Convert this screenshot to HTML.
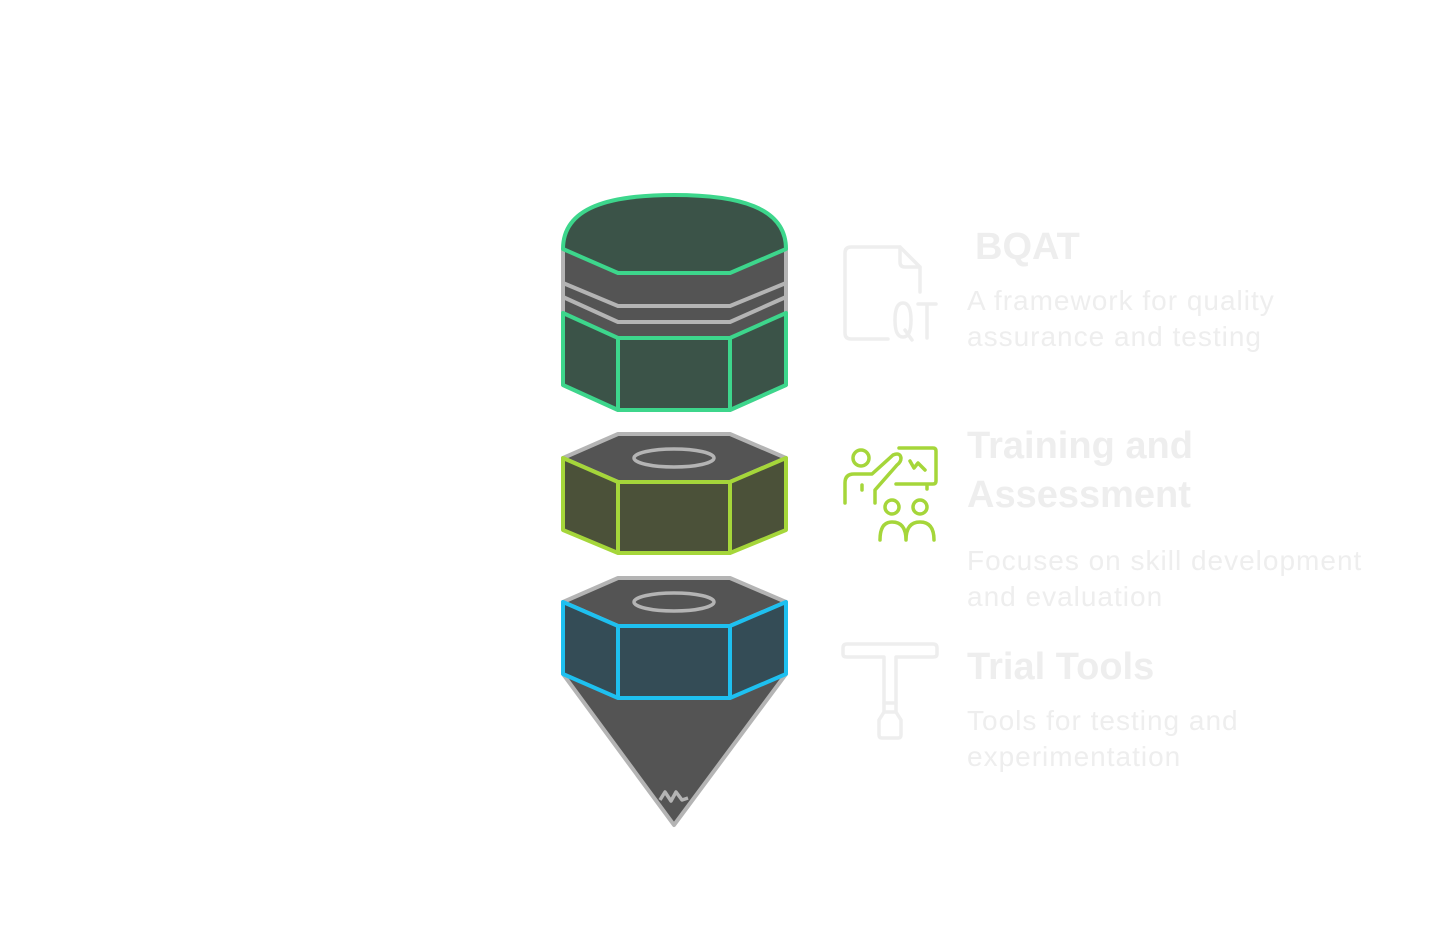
<!DOCTYPE html>
<html><head><meta charset="utf-8"><style>
html,body{margin:0;padding:0;background:#fff;width:1444px;height:925px;overflow:hidden}
svg{display:block}
text{font-family:"Liberation Sans",sans-serif;fill:#eeeeee}
.d{font-size:28px;letter-spacing:1px}
</style></head><body>
<svg width="1444" height="925" viewBox="0 0 1444 925">
<!-- top piece -->
<g stroke-width="4" stroke-linejoin="round">
<path d="M563,249 L563,385 L618,410 L730,410 L786,385 L786,249 Z" fill="#545454" stroke="#b4b4b4"/>
<path d="M563,283 L618,306 L730,306 L786,283" fill="none" stroke="#b4b4b4"/>
<path d="M563,297 L618,322 L730,322 L786,297" fill="none" stroke="#b4b4b4"/>
<path d="M563,249 C563,207 610,195 674,195 C738,195 786,207 786,249 L730,273 L618,273 Z" fill="#3b5348" stroke="#3dd68c"/>
<path d="M563,313 L618,338 L730,338 L786,313 L786,385 L730,410 L618,410 L563,385 Z" fill="#3b5348" stroke="#3dd68c"/>
<path d="M618,338 L618,410 M730,338 L730,410" stroke="#3dd68c"/>
</g>
<!-- middle piece -->
<g stroke-width="4" stroke-linejoin="round">
<path d="M618,434 L730,434 L786,458 L730,482 L618,482 L563,458 Z" fill="#545454" stroke="#b4b4b4"/>
<ellipse cx="674" cy="458" rx="40" ry="9" fill="none" stroke="#b4b4b4" stroke-width="3.5"/>
<path d="M563,458 L618,482 L730,482 L786,458 L786,530 L730,553 L618,553 L563,530 Z" fill="#4b5139" stroke="#a5d63a"/>
<path d="M618,482 L618,553 M730,482 L730,553" stroke="#a5d63a"/>
</g>
<!-- bottom piece -->
<g stroke-width="4" stroke-linejoin="round">
<path d="M563,674 L674,825 L786,674 Z" fill="#545454" stroke="#b4b4b4"/>
<path d="M660,800 L665,792 L671,801 L676,792 L682,800 L688,798" fill="none" stroke="#b4b4b4" stroke-width="3.5"/>
<path d="M618,578 L730,578 L786,602 L730,626 L618,626 L563,602 Z" fill="#545454" stroke="#b4b4b4"/>
<ellipse cx="674" cy="602" rx="40" ry="9" fill="none" stroke="#b4b4b4" stroke-width="3.5"/>
<path d="M563,602 L618,626 L730,626 L786,602 L786,674 L730,698 L618,698 L563,674 Z" fill="#344c56" stroke="#1ec0f0"/>
<path d="M618,626 L618,698 M730,626 L730,698" stroke="#1ec0f0"/>
</g>
<!-- icons -->
<g fill="none" stroke="#eeeeee" stroke-width="3.5" stroke-linecap="round" stroke-linejoin="round">
<path d="M888,339 L851,339 Q845,339 845,333 L845,253 Q845,247 851,247 L900,247 L920,267 L920,292"/>
<path d="M900,247 L900,262 Q900,267 905,267 L920,267"/>
<path d="M895,320 Q895,303 903,303 Q911,303 911,320 Q911,337 903,337 Q895,337 895,320 Z M905,330 L912,340"/>
<path d="M918,304 L936,304 M927,304 L927,338"/>
</g>
<g fill="none" stroke="#a5d63a" stroke-width="3.5" stroke-linecap="round" stroke-linejoin="round">
<circle cx="861" cy="458" r="8"/>
<path d="M845,503 L845,483 Q845,474 854,474 L872,474 L893,455 Q900,452 901,458 Q901,462 897,465 L875,490 L875,503"/>
<path d="M862,485 L862,490"/>
<path d="M899,448 L933,448 Q936,448 936,451 L936,481 Q936,484 933,484 L896,484 M927,484 L927,489"/>
<path d="M910,461 L914,468 L918,463 L925,470"/>
<circle cx="892" cy="507" r="7"/><circle cx="920" cy="507" r="7"/>
<path d="M880,540 Q880,522 892,522 Q906,522 906,540 M906,540 Q906,522 920,522 Q934,522 934,540"/>
</g>
<g fill="none" stroke="#eeeeee" stroke-width="3.5" stroke-linecap="round" stroke-linejoin="round">
<path d="M847,644 L933,644 Q937,644 937,648 L937,654 Q937,657 933,657 L896,657 L896,703 L884,703 L884,657 L847,657 Q843,657 843,654 L843,648 Q843,644 847,644 Z"/>
<path d="M884,703 L884,712 L879,720 L879,735 Q879,738 882,738 L898,738 Q901,738 901,735 L901,720 L896,712 L896,703 M884,712 L896,712"/>
</g>
<!-- text -->
<text x="975" y="259" font-size="38" font-weight="bold">BQAT</text>
<text x="967" y="310" class="d">A framework for quality</text>
<text x="967" y="346" class="d">assurance and testing</text>
<text x="967" y="458" font-size="38" font-weight="bold">Training and</text>
<text x="967" y="507" font-size="38" font-weight="bold">Assessment</text>
<text x="967" y="570" class="d">Focuses on skill development</text>
<text x="967" y="606" class="d">and evaluation</text>
<text x="967" y="679" font-size="38" font-weight="bold">Trial Tools</text>
<text x="967" y="730" class="d">Tools for testing and</text>
<text x="967" y="766" class="d">experimentation</text>
</svg>
</body></html>
